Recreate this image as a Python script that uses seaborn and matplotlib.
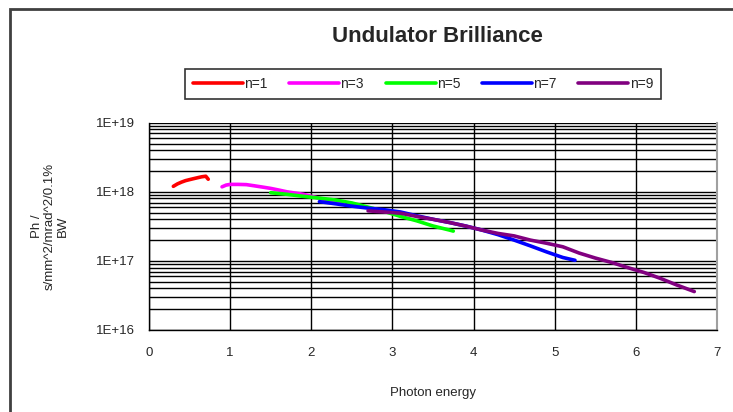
import numpy as np
import pandas as pd
import matplotlib
matplotlib.use("Agg")
import matplotlib.pyplot as plt
import matplotlib.patches as mpatches
from matplotlib.ticker import LogLocator, FixedLocator, FixedFormatter, NullFormatter
import seaborn as sns

# Harmonic series: photon energy vs brilliance
series_names = ["n=1", "n=3", "n=5", "n=7", "n=9"]
series_colors = ["#ff0000", "#ff00ff", "#00ff00", "#0000ff", "#800080"]

n1_x = [0.30, 0.35, 0.40, 0.45, 0.50, 0.55, 0.60, 0.65, 0.70, 0.73]
n1_y = [1.20e18, 1.30e18, 1.38e18, 1.45e18, 1.50e18, 1.55e18, 1.60e18, 1.65e18, 1.68e18, 1.52e18]

n3_x = [0.90, 0.95, 1.00, 1.10, 1.20, 1.30, 1.40, 1.50, 1.60, 1.70, 1.80, 1.90, 2.00, 2.20, 2.40]
n3_y = [1.18e18, 1.25e18, 1.28e18, 1.28e18, 1.27e18, 1.22e18, 1.17e18, 1.12e18, 1.06e18,
        1.00e18, 9.6e17, 9.2e17, 8.6e17, 7.6e17, 6.8e17]

n5_x = [1.50, 1.70, 1.90, 2.10, 2.30, 2.50, 2.70, 2.90, 3.10, 3.30, 3.50, 3.70, 3.75]
n5_y = [9.7e17, 9.2e17, 8.6e17, 8.1e17, 7.6e17, 6.9e17, 6.0e17, 5.2e17, 4.4e17, 3.8e17,
        3.2e17, 2.8e17, 2.7e17]

n7_x = [2.10, 2.30, 2.50, 2.70, 2.90, 3.10, 3.30, 3.50, 3.70, 3.90, 4.10, 4.30, 4.50,
        4.70, 4.90, 5.10, 5.25]
n7_y = [7.2e17, 6.7e17, 6.2e17, 5.8e17, 5.5e17, 5.1e17, 4.5e17, 4.0e17, 3.6e17, 3.2e17,
        2.8e17, 2.4e17, 2.0e17, 1.65e17, 1.35e17, 1.12e17, 1.02e17]

n9_x = [2.70, 2.90, 3.10, 3.30, 3.50, 3.70, 3.90, 4.10, 4.30, 4.50, 4.70, 4.90, 5.10,
        5.30, 5.50, 5.70, 5.90, 6.10, 6.30, 6.50, 6.72]
n9_y = [5.3e17, 5.1e17, 4.9e17, 4.4e17, 4.0e17, 3.6e17, 3.2e17, 2.8e17, 2.5e17, 2.3e17,
        2.0e17, 1.8e17, 1.6e17, 1.3e17, 1.1e17, 9.5e16, 8.0e16, 6.8e16, 5.6e16, 4.5e16, 3.6e16]

y_ticks = [1e16, 1e17, 1e18, 1e19]
y_tick_labels = ["1E+16", "1E+17", "1E+18", "1E+19"]
x_ticks = [0, 1, 2, 3, 4, 5, 6, 7]

frames = []
for name, xs, ys in zip(series_names,
                        [n1_x, n3_x, n5_x, n7_x, n9_x],
                        [n1_y, n3_y, n5_y, n7_y, n9_y]):
    frames.append(pd.DataFrame({"energy": xs, "brilliance": ys, "harmonic": name}))
df = pd.concat(frames, ignore_index=True)

sns.set_style("white")
plt.rcParams["font.family"] = ["Liberation Sans", "DejaVu Sans"]

W, H = 733, 412
fig = plt.figure(figsize=(W / 100, H / 100), dpi=100)
fig.patch.set_facecolor("white")

left, right, top, bottom = 149, 717, 122.7, 330
ax = fig.add_axes([left / W, 1 - bottom / H, (right - left) / W, (bottom - top) / H])

sns.lineplot(data=df, x="energy", y="brilliance", hue="harmonic",
             hue_order=series_names, palette=dict(zip(series_names, series_colors)),
             sort=False, estimator=None, linewidth=2.6, legend=False, ax=ax)

ax.set_yscale("log")
ax.set_ylim(1e16, 1e19)
ax.set_xlim(0, 7)
ax.yaxis.set_major_locator(FixedLocator(y_ticks))
ax.yaxis.set_major_formatter(FixedFormatter(y_tick_labels))
ax.yaxis.set_minor_locator(LogLocator(base=10, subs=np.arange(2, 10), numticks=20))
ax.yaxis.set_minor_formatter(NullFormatter())
ax.set_xticks(x_ticks)
ax.set_xticklabels([str(v) for v in x_ticks])

ax.grid(which="major", axis="both", color="black", linewidth=1.0)
ax.grid(which="minor", axis="y", color="black", linewidth=1.0)
ax.set_axisbelow(True)

ax.tick_params(axis="y", which="major", direction="out", length=7, width=1,
               color="black", labelsize=9.5, pad=3)
ax.tick_params(axis="x", which="major", direction="out", length=4, width=1,
               color="black", labelsize=9.5, pad=8)
ax.tick_params(which="minor", length=0)
for side in ["left", "bottom"]:
    ax.spines[side].set_color("black")
    ax.spines[side].set_linewidth(1)
ax.spines["top"].set_visible(False)
ax.spines["right"].set_color("#a0a0a0")
ax.spines["right"].set_linewidth(1.5)
ax.set_xlabel("")
ax.set_ylabel("")

# Chart title, axis titles
fig.text(437 / W, 1 - 37 / H, "Undulator Brilliance", ha="center", va="center",
         fontsize=16, fontweight="bold",
         family=["Liberation Sans Narrow", "Liberation Sans", "DejaVu Sans"])
fig.text(433 / W, 1 - 393 / H, "Photon energy", ha="center", va="center", fontsize=9.5)
fig.text(50 / W, 1 - 226 / H, "Ph /\ns/mm^2/mrad^2/0.1%\nBW", ha="center", va="center",
         rotation=90, multialignment="center", fontsize=9.5, linespacing=1.15)

# Legend across the top
handles = [plt.Line2D([0], [0], color=c, lw=2.6) for c in series_colors]
leg = fig.legend(handles, series_names, loc="center",
                 bbox_to_anchor=((178 + 668) / 2 / W, 1 - 84 / H), ncol=5,
                 frameon=True, fancybox=False, edgecolor="black", fontsize=10,
                 handlelength=3.6, handletextpad=0.1, columnspacing=1.55,
                 borderpad=0.6, borderaxespad=0)
leg.get_frame().set_linewidth(1.2)

# Outer chart border
fig.add_artist(mpatches.Rectangle((10 / W, -0.1), 1.2, 1 - 9 / H + 0.1,
                                  transform=fig.transFigure, fill=False,
                                  edgecolor="#404040", linewidth=2))

fig.savefig("out.png", dpi=100, facecolor="white")
